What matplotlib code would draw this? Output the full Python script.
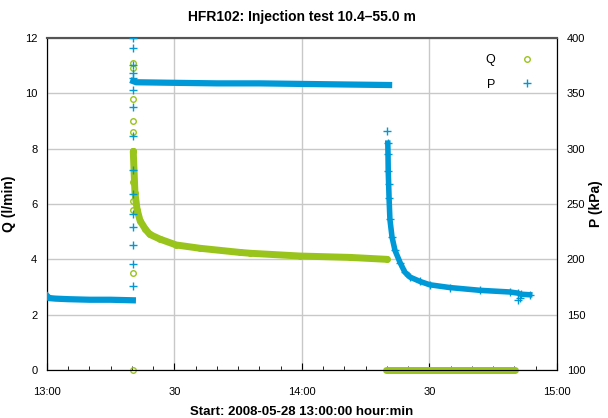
import matplotlib.pyplot as plt
from matplotlib.lines import Line2D

plt.rcParams['font.family'] = ['Liberation Sans', 'DejaVu Sans']

blue = '#0099d8'
green = '#99c41c'

# minutes since 13:00
# P (kPa) before injection
p_pre_t = [0, 0.5, 2, 5, 10, 15, 20.2]
p_pre = [167, 165, 164.5, 164, 163.5, 163.5, 163]
# P scatter at the start of injection
p_jump_t = [20.2] * 15
p_jump = [400, 391, 376, 368, 364, 353, 338, 311, 281, 259, 241, 229, 213, 196, 176]
# P during injection
p_inj_t = [20.3, 21, 30, 40, 50, 60, 70, 80.5]
p_inj = [361, 360, 359.5, 359, 359, 358.5, 358, 357.5]
# P recovery
p_rec_t = [80.1, 80.2, 80.25, 80.3, 80.4, 80.5, 80.7, 81.2, 81.9, 83.1, 84.2, 85.4, 87.8,
           90.1, 94.8, 101.9, 108.9, 110.8, 111.5, 113.6]
p_rec = [316, 305, 295, 280, 268, 255, 236, 220, 208, 197, 188.5, 184, 180,
         177, 174.5, 172, 170.5, 169.5, 168.5, 168]
p_out_t = [110.8, 111.2]
p_out = [163, 165]

# Q (l/min)
q_jump_t = [20.2] * 11
q_jump = [11.1, 10.9, 9.8, 9.0, 8.6, 6.8, 6.1, 5.8, 3.5, 0, 7.9]
q_inj_t = [20.3, 20.7, 21.2, 21.9, 23.1, 24.2, 26.6, 30.4, 36, 45.4, 47.8, 59.5, 71.3, 80]
q_inj = [7.9, 6.4, 5.8, 5.4, 5.1, 4.9, 4.73, 4.52, 4.4, 4.25, 4.22, 4.12, 4.07, 4.0]
q_rec_t = [79.8, 85, 90, 95, 100, 105, 110.1]
q_rec = [0, 0, 0, 0, 0, 0, 0]

fig = plt.figure(figsize=(6.08, 4.18), dpi=100)
ax = fig.add_axes([0.0773, 0.1148, 0.8387, 0.7943])
ax2 = ax.twinx()

# Q on left axis
ax.plot(q_inj_t, q_inj, color=green, lw=5, solid_capstyle='round', zorder=3)
ax.plot(q_inj_t, q_inj, 'o', color=green, mfc='none', ms=4, mew=1, zorder=3)
ax.plot(q_rec_t, q_rec, color=green, lw=5, solid_capstyle='round', clip_on=False, zorder=3)
ax.plot(q_jump_t, q_jump, 'o', color=green, mfc='none', ms=4, mew=1, clip_on=False, zorder=3)

# P on right axis
ax2.plot(p_pre_t, p_pre, color=blue, lw=4.5, zorder=3)
ax2.plot(p_inj_t, p_inj, color=blue, lw=4.5, zorder=3)
ax2.plot(p_rec_t[1:], p_rec[1:], color=blue, lw=4, zorder=3)
ax2.plot(p_rec_t, p_rec, '+', color=blue, ms=6, mew=1, zorder=3)
ax2.plot(p_jump_t, p_jump, '+', color=blue, ms=6, mew=1, zorder=3)
ax2.plot(p_out_t, p_out, '+', color=blue, ms=6, mew=1, zorder=3)

ax.set_xlim(0, 120)
ax.set_ylim(0, 12)
ax2.set_ylim(100, 400)
ax.set_xticks([0, 30, 60, 90, 120])
ax.set_xticklabels(['13:00', '30', '14:00', '30', '15:00'])
ax.set_xticks(range(0, 121, 5), minor=True)
ax.set_yticks(range(0, 13, 2))
ax2.set_yticks(range(100, 401, 50))

ax.tick_params(axis='x', which='major', direction='in', length=5, pad=12, labelsize=8)
ax.tick_params(axis='x', which='minor', direction='in', length=3)
ax.tick_params(axis='y', length=0, pad=7, labelsize=8)
ax2.tick_params(axis='y', length=0, pad=7, labelsize=8)
ax.grid(True, color='#c8c8c8', lw=1)

for a in (ax, ax2):
    a.spines['top'].set_color('#555555')
    a.spines['top'].set_linewidth(1.5)

ax.set_title('HFR102: Injection test 10.4\u201355.0 m', fontsize=10, fontweight='bold', pad=12)
ax.set_xlabel('Start: 2008-05-28 13:00:00 hour:min', fontsize=9.5, fontweight='bold', labelpad=7)
ax.set_ylabel('Q (l/min)', fontsize=10, fontweight='bold', labelpad=6)
ax2.set_ylabel('P (kPa)', fontsize=10, fontweight='bold', labelpad=3)

handles = [Line2D([], [], ls='none', marker='o', color=green, mfc='none', ms=4, mew=1),
           Line2D([], [], ls='none', marker='+', color=blue, ms=6, mew=1)]
ax2.legend(handles, ['Q', 'P'], loc='upper right', bbox_to_anchor=(0.975, 0.985),
           frameon=False, markerfirst=False, fontsize=9, handlelength=1,
           handletextpad=2, labelspacing=1.0)

fig.savefig('out.png', dpi=100)
